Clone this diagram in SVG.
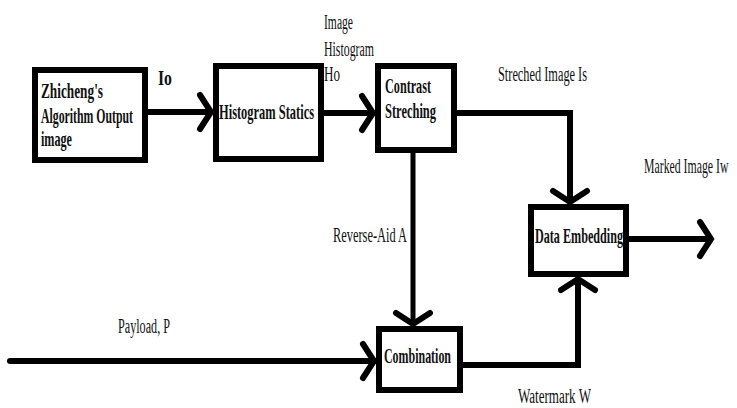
<svg xmlns="http://www.w3.org/2000/svg" width="737" height="408" viewBox="0 0 737 408">
<style>
.box{fill:#fff;stroke:#000;stroke-width:6}
.lbl{font-family:"Liberation Serif","Times New Roman",serif;font-size:20px;fill:#111}
.b{font-weight:bold;font-size:21px}
.ln{fill:none;stroke:#000;stroke-width:6;stroke-linejoin:miter}
</style>
<defs>
<marker id="chev" markerUnits="userSpaceOnUse" markerWidth="40" markerHeight="40" viewBox="-20 -20 40 40" refX="0" refY="0" orient="auto" overflow="visible">
<path d="M-11,-17 L0,0 L-11,17" fill="none" stroke="#000" stroke-width="6" stroke-linecap="round"/>
</marker>
</defs>
<rect width="737" height="408" fill="#fff"/>
<g id="node-zhicheng">
<rect class="box" x="35" y="70" width="110" height="90"/>
<text class="lbl b" x="41" y="98" textLength="62" lengthAdjust="spacingAndGlyphs">Zhicheng's</text>
<text class="lbl b" x="41" y="123" textLength="92" lengthAdjust="spacingAndGlyphs">Algorithm Output</text>
<text class="lbl b" x="41" y="146" textLength="31" lengthAdjust="spacingAndGlyphs">image</text>
</g>
<g id="node-histogram">
<rect class="box" x="216" y="66" width="105" height="93"/>
<text class="lbl b" x="219" y="119" textLength="95" lengthAdjust="spacingAndGlyphs">Histogram Statics</text>
</g>
<g id="node-contrast">
<rect class="box" x="378" y="66" width="76" height="84"/>
<text class="lbl b" x="385" y="93" textLength="46" lengthAdjust="spacingAndGlyphs">Contrast</text>
<text class="lbl b" x="385" y="118" textLength="51" lengthAdjust="spacingAndGlyphs">Streching</text>
</g>
<g id="node-embedding">
<rect class="box" x="531" y="207" width="95" height="67"/>
<text class="lbl b" x="535" y="243" textLength="88" lengthAdjust="spacingAndGlyphs">Data Embedding</text>
</g>
<g id="node-combination">
<rect class="box" x="379" y="329" width="81" height="61"/>
<text class="lbl b" x="384" y="363" textLength="67" lengthAdjust="spacingAndGlyphs">Combination</text>
</g>
<g id="connectors">
<path class="ln" d="M145,112 H211" marker-end="url(#chev)"/>
<path class="ln" d="M321,113 H373" marker-end="url(#chev)"/>
<path class="ln" d="M454,113 H570 V202" marker-end="url(#chev)"/>
<path class="ln" style="stroke-width:5" d="M413,150 V324" marker-end="url(#chev)"/>
<path class="ln" style="stroke-linecap:round" d="M10,361 H374" marker-end="url(#chev)"/>
<path class="ln" d="M460,365 H578 V279" marker-end="url(#chev)"/>
<path class="ln" d="M626,239 H711" marker-end="url(#chev)"/>
</g>
<g id="edge-labels">
<text class="lbl b" x="158" y="85" textLength="14" lengthAdjust="spacingAndGlyphs">Io</text>
<text class="lbl" x="324" y="29" textLength="29" lengthAdjust="spacingAndGlyphs">Image</text>
<text class="lbl" x="324" y="56" textLength="50" lengthAdjust="spacingAndGlyphs">Histogram</text>
<text class="lbl" x="324" y="81" textLength="16" lengthAdjust="spacingAndGlyphs">Ho</text>
<text class="lbl" x="498" y="81" textLength="89" lengthAdjust="spacingAndGlyphs">Streched Image Is</text>
<text class="lbl" transform="translate(644,173) scale(0.59,1)">Marked Image Iw</text>
<text class="lbl" x="333" y="242" textLength="74" lengthAdjust="spacingAndGlyphs">Reverse-Aid A</text>
<text class="lbl" x="118" y="333" textLength="52" lengthAdjust="spacingAndGlyphs">Payload, P</text>
<text class="lbl" x="518" y="403" textLength="73" lengthAdjust="spacingAndGlyphs">Watermark W</text>
</g>
</svg>
